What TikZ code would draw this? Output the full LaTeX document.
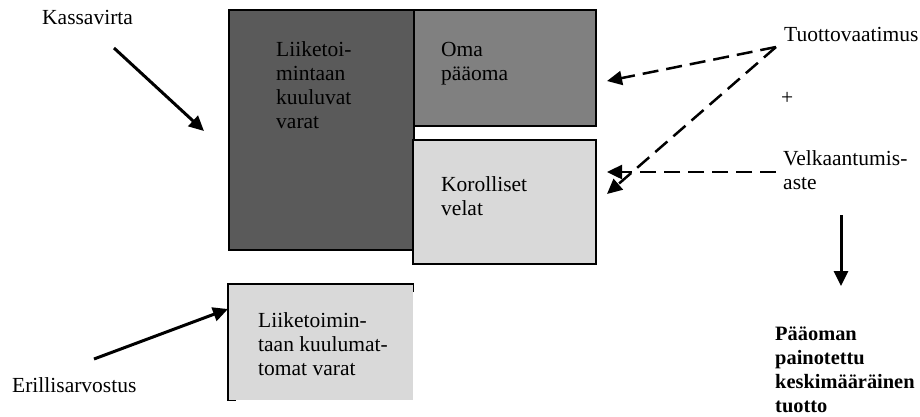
\documentclass[tikz,border=0pt]{standalone}
\usepackage{fontspec}
\setmainfont{Liberation Serif}
\usetikzlibrary{arrows.meta}
\definecolor{darkbox}{RGB}{90,90,90}
\definecolor{midbox}{RGB}{128,128,128}
\definecolor{lightbox}{RGB}{217,217,217}
\newcommand\mlines[1]{\begin{tabular}[t]{@{}l@{}}#1\end{tabular}}
\begin{document}
\begin{tikzpicture}[x=1pt,y=-1pt,
  txt/.style={anchor=base west,inner sep=0pt,font=\fontsize{21.5}{24}\selectfont},
  btxt/.style={txt,font=\fontsize{20.4}{24}\selectfont\bfseries},
  boxframe/.style={draw=black,line width=1.5pt,anchor=north west,inner sep=0pt},
  arr/.style={line width=3pt,-{Triangle[length=15pt,width=14pt]}},
  darr/.style={line width=2.5pt,dash pattern=on 16pt off 8pt,-{Triangle[length=15pt,width=14pt]}}]
\useasboundingbox (0,0) rectangle (920,416);
% boxes
\node[boxframe,fill=darkbox,minimum width=185pt,minimum height=240pt] (big) at (228,9) {};
\node[boxframe,fill=midbox,minimum width=182pt,minimum height=116pt] (oma) at (413,9) {};
\node[boxframe,fill=lightbox,minimum width=183pt,minimum height=124pt] (korol) at (412,139) {};
\node[anchor=north west,inner sep=0pt,fill=lightbox,minimum width=185pt,minimum height=116pt] (eril) at (228,284) {};
\draw[line width=1.5pt] ([yshift=-8pt]eril.north east) -- (eril.north east) -- (eril.north west) -- (eril.south west) -- ([xshift=8pt]eril.south west);
% box texts
\node[txt] (t1) at (276,56) {\mlines{Liiketoi-\\mintaan\\kuuluvat\\varat}};
\node[txt] (t2) at (441,56) {\mlines{Oma\\pääoma}};
\node[txt] (t3) at (441,191) {\mlines{Korolliset\\velat}};
\node[txt] (t4) at (258,327) {\mlines{Liiketoimin-\\taan kuulumat-\\tomat varat}};
% outside texts
\node[txt] (kassa) at (42,24) {Kassavirta};
\node[txt] (erill) at (12,392) {Erillisarvostus};
\node[txt] (tuotto) at (784,41) {Tuottovaatimus};
\node[txt] (plus) at (781,104) {+};
\node[txt] (velka) at (783,165) {\mlines{Velkaantumis-\\aste}};
\node[btxt] (wacc) at (775,340) {\mlines{Pääoman\\painotettu\\keskimääräinen\\tuotto}};
% connector coordinates
\coordinate (k1) at (114,48);
\coordinate (k2) at (204,131);
\coordinate (e1) at (94,359);
\coordinate (e2) at (228,309);
\coordinate (d1) at (841,215);
\coordinate (d2) at (841,286);
\coordinate (tv) at (776,47);
\coordinate (to1) at (607,81);
\coordinate (to2) at (607,194);
\coordinate (vk) at (776,172);
\coordinate (vk2) at (607,172);
% connectors
\draw[arr] (k1) -- (k2);
\draw[arr] (e1) -- (e2);
\draw[arr] (d1) -- (d2);
\draw[darr] (tv) -- (to1);
\draw[darr] (tv) -- (to2);
\draw[darr] (vk) -- (vk2);
\end{tikzpicture}
\end{document}
